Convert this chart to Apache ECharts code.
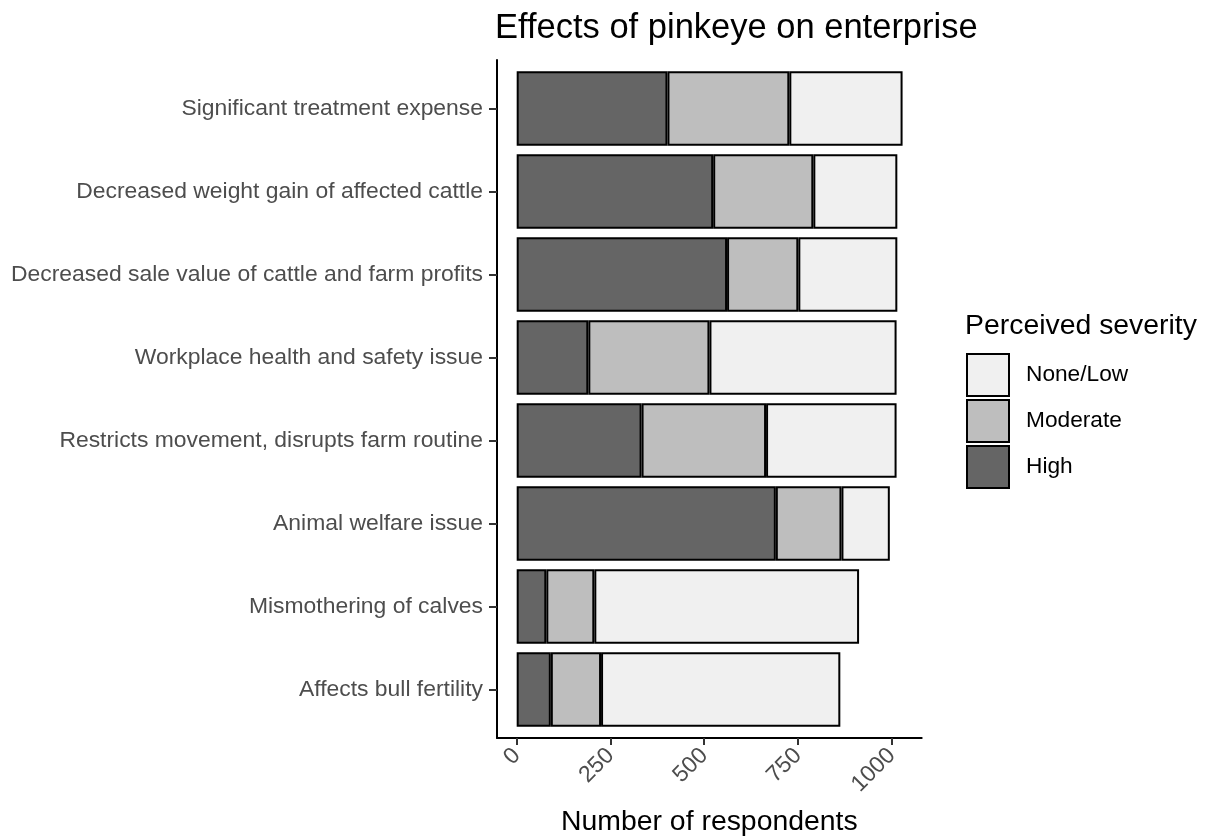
<!DOCTYPE html>
<html>
<head>
<meta charset="utf-8">
<script src="https://cdn.jsdelivr.net/npm/echarts@6/dist/echarts.min.js"></script>
<style>
  html, body { margin: 0; padding: 0; background: #fff; }
  #chart { width: 1215px; height: 838px; }
</style>
</head>
<body>
<div id="chart"></div>
<script>

var categories = [
    "Significant treatment expense",
    "Decreased weight gain of affected cattle",
    "Decreased sale value of cattle and farm profits",
    "Workplace health and safety issue",
    "Restricts movement, disrupts farm routine",
    "Animal welfare issue",
    "Mismothering of calves",
    "Affects bull fertility"
]
var high     = [402, 524, 561, 191, 333, 691, 79, 91]
var moderate = [325, 267, 190, 323, 332, 175, 128, 134]
var noneLow  = [302, 224, 264, 499, 348, 129, 706, 638]
var xTicks = [0, 250, 500, 750, 1000]

var font = '"Liberation Sans", Arial, sans-serif'
var x_min = -52.5, x_max = 1080

function make_series(name, values, color){
    return {
        name: name,
        type: 'bar',
        stack: 'total',
        xAxisIndex: 0,
        yAxisIndex: 0,
        barWidth: '90%',
        data: values,
        itemStyle: {
            color: color,
            borderColor: '#000',
            borderWidth: 2
        },
        emphasis: { disabled: true }
    }
}

var chart_div = echarts.init(document.getElementById('chart'))

var option = {
    animation: false,
    backgroundColor: '#fff',
    title: [
        {
            text: 'Effects of pinkeye on enterprise',
            left: 495,
            top: 11,
            padding: 0,
            textStyle: { fontFamily: font, fontSize: 34.5, fontWeight: 'normal', color: '#000' }
        },
        {
            text: 'Perceived severity',
            left: 965,
            top: 312,
            padding: 0,
            textStyle: { fontFamily: font, fontSize: 28.4, fontWeight: 'normal', color: '#000' }
        }
    ],
    legend: {
        orient: 'vertical',
        left: 966,
        top: 353,
        padding: 0,
        itemWidth: 42,
        itemHeight: 42,
        itemGap: 2,
        icon: 'rect',
        data: ['None/Low', 'Moderate', 'High'],
        itemStyle: { borderColor: '#000', borderWidth: 2 },
        textStyle: { fontFamily: font, fontSize: 22.7, color: '#000', padding: [0, 0, 0, 12] }
    },
    grid: [
        // bars
        { left: 497, right: 293.3, top: 67, bottom: 107, containLabel: false, outerBoundsMode: 'none' },
        // axis frame
        { left: 497, right: 293.3, top: 60, bottom: 100, containLabel: false, outerBoundsMode: 'none' }
    ],
    xAxis: [
        {
            gridIndex: 0,
            type: 'value',
            min: x_min,
            max: x_max,
            show: false
        },
        {
            gridIndex: 1,
            type: 'value',
            min: x_min,
            max: x_max,
            name: 'Number of respondents',
            nameLocation: 'middle',
            nameGap: 70,
            nameTextStyle: { fontFamily: font, fontSize: 28.4, color: '#000' },
            axisLine: { show: true, onZero: false, lineStyle: { color: '#000', width: 2 } },
            axisTick: { show: true, length: 7, customValues: xTicks, lineStyle: { color: '#333', width: 2 } },
            axisLabel: {
                customValues: xTicks,
                rotate: 45,
                margin: 14,
                fontFamily: font,
                fontSize: 23,
                color: '#4d4d4d',
                formatter: function (v) { return String(v) }
            },
            splitLine: { show: false }
        }
    ],
    yAxis: [
        {
            gridIndex: 0,
            type: 'category',
            inverse: true,
            data: categories,
            axisLine: { show: false, onZero: false },
            axisTick: { show: true, alignWithLabel: true, length: 8, lineStyle: { color: '#333', width: 2 } },
            axisLabel: { margin: 14, fontFamily: font, fontSize: 22.9, color: '#4d4d4d' },
            splitLine: { show: false }
        },
        {
            gridIndex: 1,
            type: 'value',
            min: 0,
            max: 1,
            axisLine: { show: true, onZero: false, lineStyle: { color: '#000', width: 2 } },
            axisTick: { show: false },
            axisLabel: { show: false },
            splitLine: { show: false }
        }
    ],
    series: [
        make_series('High', high, '#656565'),
        make_series('Moderate', moderate, '#bebebe'),
        make_series('None/Low', noneLow, '#f0f0f0')
    ]
}

chart_div.setOption(option)
</script>
</body>
</html>
